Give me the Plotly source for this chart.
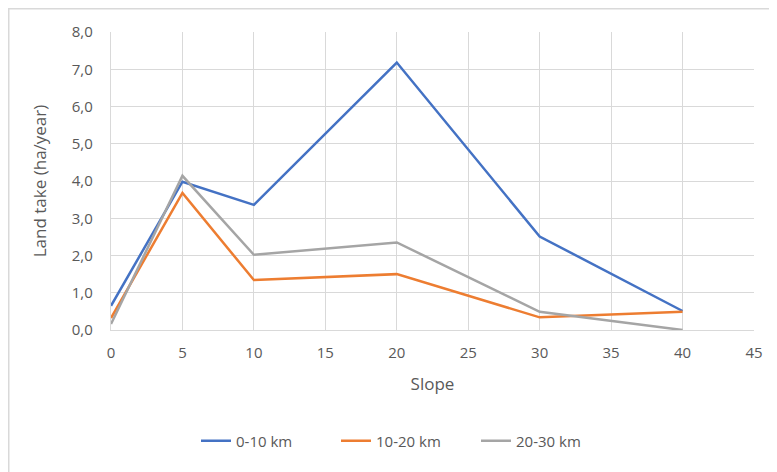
import plotly.graph_objects as go

slope = [0, 5, 10, 20, 30, 40]
km_0_10 = [0.65, 3.98, 3.36, 7.18, 2.51, 0.51]
km_10_20 = [0.32, 3.68, 1.34, 1.50, 0.34, 0.49]
km_20_30 = [0.16, 4.14, 2.02, 2.35, 0.49, 0.00]
series_names = ["0-10 km", "10-20 km", "20-30 km"]
colors = ["#4472C4", "#ED7D31", "#A5A5A5"]

fig = go.Figure()
for name, vals, col in zip(series_names, [km_0_10, km_10_20, km_20_30], colors):
    fig.add_trace(go.Scatter(x=slope, y=vals, mode="lines", name=name,
                             line=dict(color=col, width=2.5)))

# page has an 8px body margin, so figure coordinates = page coordinates - 8
OFF = 8
W, H = 777 - OFF, 472 - OFF
L, R, T, B = 111 - OFF, 754 - OFF, 32 - OFF, 330 - OFF
pw, ph = R - L, B - T

def px_to_paper_x(px):
    return (px - OFF - L) / pw

def px_to_paper_y(py):
    return (B - (py - OFF)) / ph

font_col = "#595959"
fig.update_layout(
    width=W, height=H,
    margin=dict(l=L, r=W - R, t=T, b=H - B),
    paper_bgcolor="white", plot_bgcolor="white",
    font=dict(family="Open Sans", size=15, color=font_col),
    separators=",.",
    showlegend=True,
    legend=dict(orientation="h", x=px_to_paper_x(196), xanchor="left",
                y=px_to_paper_y(441), yanchor="middle",
                font=dict(size=15, color=font_col),
                entrywidth=95, entrywidthmode="pixels",
                traceorder="normal"),
    xaxis=dict(range=[0, 45], dtick=5, tick0=0, showgrid=True, gridcolor="#d9d9d9",
               gridwidth=1.3, showline=True, linecolor="#d9d9d9", linewidth=1.3,
               zeroline=False, ticks="", ticklabelstandoff=9,
               title=dict(text="Slope", font=dict(size=17, color=font_col), standoff=16)),
    yaxis=dict(range=[0, 8], dtick=1, tickformat=".1f", showgrid=True, gridcolor="#d9d9d9",
               gridwidth=1.3, showline=True, linecolor="#d9d9d9", linewidth=1.3,
               zeroline=False, ticks="", ticklabelstandoff=14,
               title=dict(text="Land take (ha/year)", font=dict(size=17, color=font_col), standoff=20)),
    shapes=[dict(type="rect", xref="paper", yref="paper",
                 x0=px_to_paper_x(8.5), x1=px_to_paper_x(800),
                 y0=px_to_paper_y(500), y1=px_to_paper_y(8.5),
                 line=dict(color="#d9d9d9", width=2), fillcolor="rgba(0,0,0,0)", layer="below")],
)

fig.write_html("out.html")
